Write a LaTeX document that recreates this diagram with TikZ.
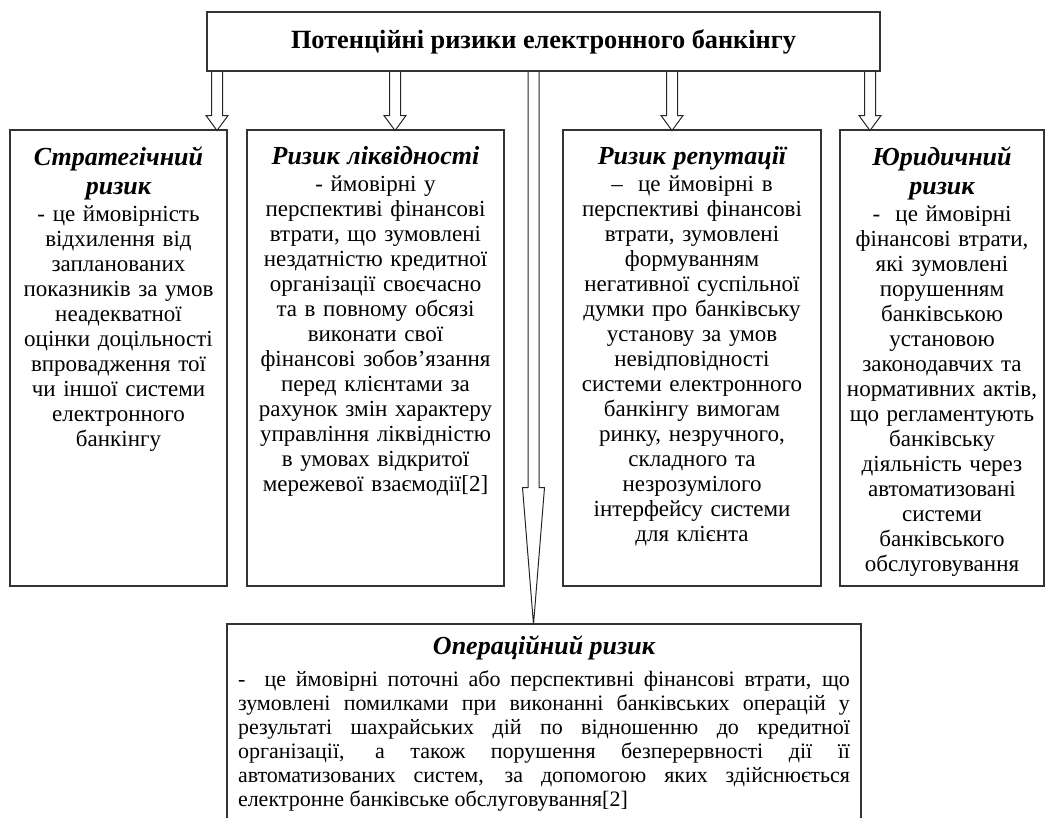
\documentclass[tikz,border=0pt]{standalone}
\usepackage{fontspec}
\setmainfont{Liberation Serif}
\usetikzlibrary{positioning}
\usetikzlibrary{calc}
\tikzset{
  pics/blockarrow/.style args={#1:#2}{
    code={
      \draw[pic actions] (-5.5,0) -- (-5.5,#1) -- (-11,#1) -- (0,#2) -- (11,#1) -- (5.5,#1) -- (5.5,0);
    }
  },
  riskbox/.style={draw=black!80, line width=1.1pt, inner sep=0pt},
  risktext/.style={align=center, inner sep=0pt, font=\fontsize{23}{25}\selectfont},
  riskarrow/.style={draw=black!85, line width=1pt}
}
\newcommand\rtitle{\fontsize{26}{29}\selectfont\bfseries\itshape}

\begin{document}
\begin{tikzpicture}[x=1pt, y=-1pt]
\useasboundingbox (0,0) rectangle (1047,818);

% main box
\node[riskbox, minimum width=673pt, minimum height=59pt, font=\fontsize{26.3}{30}\selectfont\bfseries] (potential) at (543.5,41.5) {Потенційні ризики електронного банкінгу};

% risk boxes
\node[riskbox, minimum width=217pt, minimum height=456pt] (strategic) at (118.5,358) {};
\node[riskbox, minimum width=257pt, minimum height=456pt] (liquidity) at (375.5,358) {};
\node[riskbox, minimum width=258pt, minimum height=456pt] (reputation) at (692,358) {};
\node[riskbox, minimum width=204pt, minimum height=456pt] (legal) at (942,358) {};
\node[riskbox, minimum width=634pt, minimum height=230pt] (operational) at (544,739) {};

%%%texts
\node[risktext, text width=215pt, below=17pt of strategic.north] (strategictext) {{\rtitle Стратегічний}\\[4pt] {\rtitle ризик}\\[2pt]
- це ймовірність\\ відхилення від\\ запланованих\\ показників за умов\\ неадекватної\\ оцінки доцільності\\ впровадження тої\\ чи іншої системи\\ електронного\\ банкінгу};

\node[risktext, text width=255pt, below=17pt of liquidity.north] (liquiditytext) {{\rtitle Ризик ліквідності}\\[2pt]
- ймовірні у\\ перспективі фінансові\\ втрати, що зумовлені\\ нездатністю кредитної\\ організації своєчасно\\ та в повному обсязі\\ виконати свої\\ фінансові зобов’язання\\ перед клієнтами за\\ рахунок змін характеру\\ управління ліквідністю\\ в умовах відкритої\\ мережевої взаємодії[2]};

\node[risktext, text width=256pt, below=17pt of reputation.north] (reputationtext) {{\rtitle Ризик репутації}\\[2pt]
–\ \ це ймовірні в\\ перспективі фінансові\\ втрати, зумовлені\\ формуванням\\ негативної суспільної\\ думки про банківську\\ установу за умов\\ невідповідності\\ системи електронного\\ банкінгу вимогам\\ ринку, незручного,\\ складного та\\ незрозумілого\\ інтерфейсу системи\\ для клієнта};

\node[risktext, text width=203pt, below=17pt of legal.north] (legaltext) {{\rtitle Юридичний}\\[4pt] {\rtitle ризик}\\[2pt]
-\ \ це ймовірні\\ фінансові втрати,\\ які зумовлені\\ порушенням\\ банківською\\ установою\\ законодавчих та\\ нормативних актів,\\ що регламентують\\ банківську\\ діяльність через\\ автоматизовані\\ системи\\ банківського\\ обслуговування};

\node[risktext, align=justify, font=\fontsize{22}{24}\selectfont, text width=612pt, below=12pt of operational.north] (operationaltext) {\makebox[612pt][c]{\rtitle Операційний ризик}\\[8pt]
-\ \ це ймовірні поточні або перспективні фінансові втрати, що\linebreak
зумовлені помилками при виконанні банківських операцій у\linebreak
результаті шахрайських дій по відношенню до кредитної\linebreak
організації, а також порушення безперервності дії її\linebreak
автоматизованих систем, за допомогою яких здійснюється\linebreak
електронне банківське обслуговування[2]};

%%%arrows
\pic[riskarrow] at ($(potential.south)+(-326.5,0)$) {blockarrow=44:59};
\pic[riskarrow] at ($(potential.south)+(-148.5,0)$) {blockarrow=44:59};
\pic[riskarrow] at ($(potential.south)+(-10,0)$) {blockarrow=416:553};
\pic[riskarrow] at ($(potential.south)+(128.5,0)$) {blockarrow=44:59};
\pic[riskarrow] at ($(potential.south)+(326.5,0)$) {blockarrow=44:59};

\end{tikzpicture}
\end{document}
